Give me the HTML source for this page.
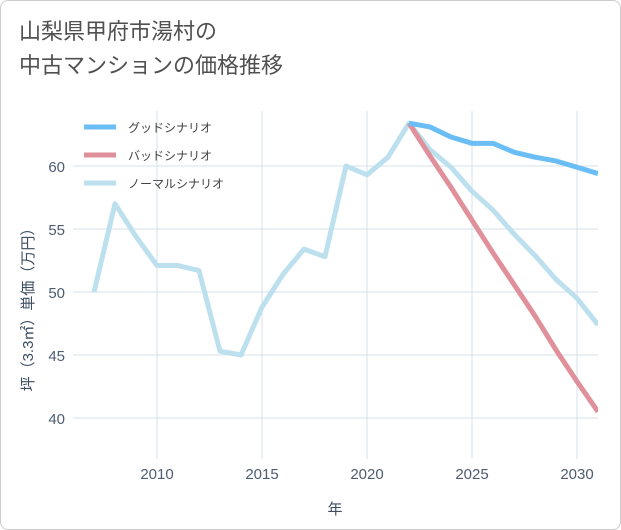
<!DOCTYPE html>
<html><head><meta charset="utf-8"><style>
body{margin:0;background:#fff;font-family:"Liberation Sans","Noto Sans CJK JP",sans-serif;}
#wrap{position:relative;width:619px;height:528px;border:1px solid #ccc;border-radius:8px;background:#fff;overflow:hidden}
#title{position:absolute;left:18px;top:14px;font-size:22px;line-height:34px;color:#505050;font-family:"Liberation Sans","Noto Sans CJK JP",sans-serif}
svg{position:absolute;left:0;top:0}
</style></head><body>
<div id="wrap">
<div id="title">山梨県甲府市湯村の<br>中古マンションの価格推移</div>
<svg id="chart" width="621" height="530"></svg>
</div>
<script>
const years=[2007,2008,2009,2010,2011,2012,2013,2014,2015,2016,2017,2018,2019,2020,2021,2022,2023,2024,2025,2026,2027,2028,2029,2030,2031];
const normal=[50,57,54.4,52.1,52.1,51.7,45.3,45,48.8,51.4,53.4,52.8,60,59.3,60.7,63.4,61.3,59.9,58,56.5,54.6,52.9,51,49.5,47.4];
const futureYears=[2022,2023,2024,2025,2026,2027,2028,2029,2030,2031];
const good=[63.4,63.1,62.3,61.8,61.8,61.1,60.7,60.4,59.9,59.4];
const bad=[63.4,60.8,58.3,55.7,53.1,50.6,48.1,45.4,42.9,40.5];
const xTicks=[2010,2015,2020,2025,2030];
const yTicks=[40,45,50,55,60];
const legendLabels=["グッドシナリオ","バッドシナリオ","ノーマルシナリオ"];
const colors=["#6bbef5","#e0909a","#bde0ee"];

const L=72,R=597,T=110,B=458;
const x=v=>L+(v-2006)/(2031-2006)*(R-L);
const y=v=>165+(60-v)*12.6;
const svg=document.getElementById('chart');
const NS='http://www.w3.org/2000/svg';
function mk(t,a){const e=document.createElementNS(NS,t);for(const k in a)e.setAttribute(k,a[k]);svg.appendChild(e);return e;}
const bg=mk('rect',{x:L,y:T,width:R-L,height:B-T,fill:'#fff'});


xTicks.forEach(v=>{
 const g=mk('line',{x1:x(v),x2:x(v),y1:T,y2:B,stroke:'#d5e0e8','stroke-width':1});
 
 
 const t=mk('text',{x:x(v),y:478,'text-anchor':'middle','font-size':15,fill:'#4d5d72'});
 t.textContent=v;
 
 
});
yTicks.forEach(v=>{
 const g=mk('line',{x1:L,x2:R,y1:y(v),y2:y(v),stroke:'#d5e0e8','stroke-width':1});
 
 
 const t=mk('text',{x:64,y:y(v)+6,'text-anchor':'end','font-size':15,fill:'#4d5d72'});
 t.textContent=v;
 
 
});
const xt=mk('text',{x:334,y:513,'text-anchor':'middle','font-size':15,fill:'#3d4d62'});
xt.textContent='年';


const yt=mk('text',{x:0,y:0,'text-anchor':'middle','font-size':15,fill:'#3d4d62',transform:'translate(32,305) rotate(-90)'});
yt.textContent='坪（3.3㎡）単価（万円）';


function line(xs,vs,c,n){
 const p=mk('polyline',{points:xs.map((v,i)=>x(v)+','+y(vs[i])).join(' '),fill:'none',stroke:c,'stroke-width':5,'stroke-linejoin':'round'});
 
 
}
line(years,normal,colors[2],'normal-scenario-line');
line(futureYears,bad,colors[1],'bad-scenario-line');
line(futureYears,good,colors[0],'good-scenario-line');
const cp=mk('rect',{x:597,y:100,width:24,height:370,fill:'#fff'});
legendLabels.forEach((s,i)=>{
 const ly=126+i*28;
 const l=mk('line',{x1:83,x2:115,y1:ly,y2:ly,stroke:colors[i],'stroke-width':5});
 
 
 const t=mk('text',{x:127,y:ly+5,'font-size':12,fill:'#444'});
 t.textContent=s;
 
 
});
</script>
</body></html>
